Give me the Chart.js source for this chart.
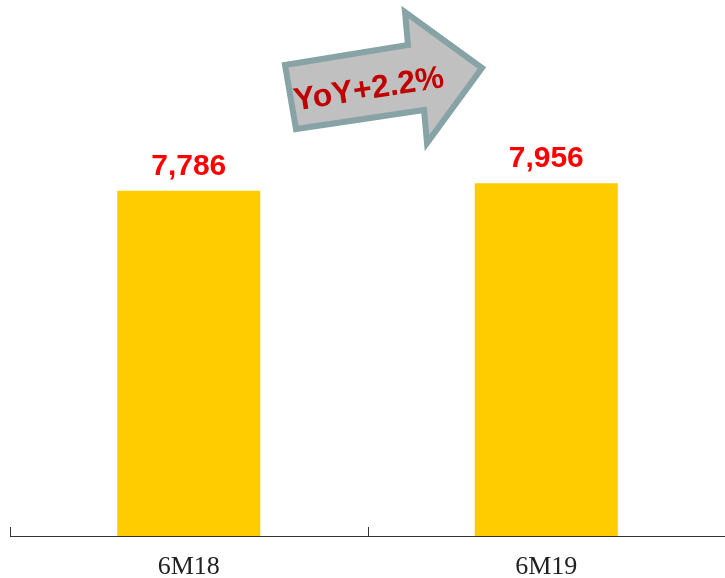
<!DOCTYPE html>
<html>
<head>
<meta charset="utf-8">
<script src="https://cdn.jsdelivr.net/npm/chart.js@4.4.0/dist/chart.umd.min.js"></script>
<style>
  html, body { margin: 0; padding: 0; background: #fff; }
  #wrap { width: 725px; height: 578px; }
</style>
</head>
<body>
<div id="wrap"><canvas id="chart" width="725" height="578"></canvas></div>
<script>
const categories = ['6M18', '6M19'];
const values = [7786, 7956];
const valueLabels = ['7,786', '7,956'];
const growthText = 'YoY+2.2%';

// value labels above bars + small upward tick marks on the x axis
const barLabels = {
    id: 'barLabels',
    afterDatasetsDraw(chart) {
        const ctx = chart.ctx;
        const meta = chart.getDatasetMeta(0);
        ctx.save();
        ctx.fillStyle = '#ff0000';
        ctx.font = 'bold 30px "Liberation Sans", Arial, sans-serif';
        ctx.textAlign = 'center';
        ctx.textBaseline = 'alphabetic';
        meta.data.forEach((bar, i) => {
            ctx.fillText(valueLabels[i], bar.x, bar.y - 16);
        });

        const xs = chart.scales.x;
        const bottom = chart.chartArea.bottom;
        ctx.strokeStyle = '#333';
        ctx.lineWidth = 1;
        for (let i = 0; i <= categories.length; i++) {
            const x = Math.round(xs.getPixelForValue(i - 0.5)) + 0.5;
            ctx.beginPath();
            ctx.moveTo(x, bottom - 9);
            ctx.lineTo(x, bottom);
            ctx.stroke();
        }
        ctx.restore();
    }
};

// grey growth arrow between bars
const growthArrow = {
    id: 'growthArrow',
    afterDraw(chart) {
        const ctx = chart.ctx;
        ctx.save();
        ctx.beginPath();
        ctx.moveTo(285, 65);
        ctx.lineTo(408, 45);
        ctx.lineTo(405, 12);
        ctx.lineTo(482, 68);
        ctx.lineTo(427, 143);
        ctx.lineTo(424, 110);
        ctx.lineTo(296, 129);
        ctx.closePath();
        ctx.fillStyle = '#c0c0c0';
        ctx.fill();
        ctx.lineWidth = 6;
        ctx.lineJoin = 'miter';
        ctx.strokeStyle = '#87a3a6';
        ctx.stroke();

        ctx.translate(369, 90);
        ctx.rotate(-9 * Math.PI / 180);
        ctx.fillStyle = '#c00000';
        ctx.font = 'bold 32px "Liberation Sans", Arial, sans-serif';
        ctx.textAlign = 'center';
        ctx.textBaseline = 'middle';
        ctx.fillText(growthText, 0, 0);
        ctx.restore();
    }
};

new Chart(document.getElementById('chart'), {
    type: 'bar',
    data: {
        labels: categories,
        datasets: [{
            data: values,
            backgroundColor: '#ffcc00',
            categoryPercentage: 0.8,
            barPercentage: 0.5
        }]
    },
    options: {
        responsive: false,
        animation: false,
        layout: { padding: { left: 10, right: 0, top: 4, bottom: 0 } },
        plugins: {
            legend: { display: false },
            tooltip: { enabled: false }
        },
        scales: {
            x: {
                offset: true,
                grid: { display: false },
                border: { display: true, color: '#333', width: 1 },
                afterFit(scale) { scale.height = 42; },
                ticks: {
                    color: '#222',
                    padding: 8,
                    font: { family: '"Liberation Serif", "Times New Roman", serif', size: 26 }
                }
            },
            y: {
                display: false,
                min: 0,
                max: 12000
            }
        }
    },
    plugins: [barLabels, growthArrow]
});
</script>
</body>
</html>
